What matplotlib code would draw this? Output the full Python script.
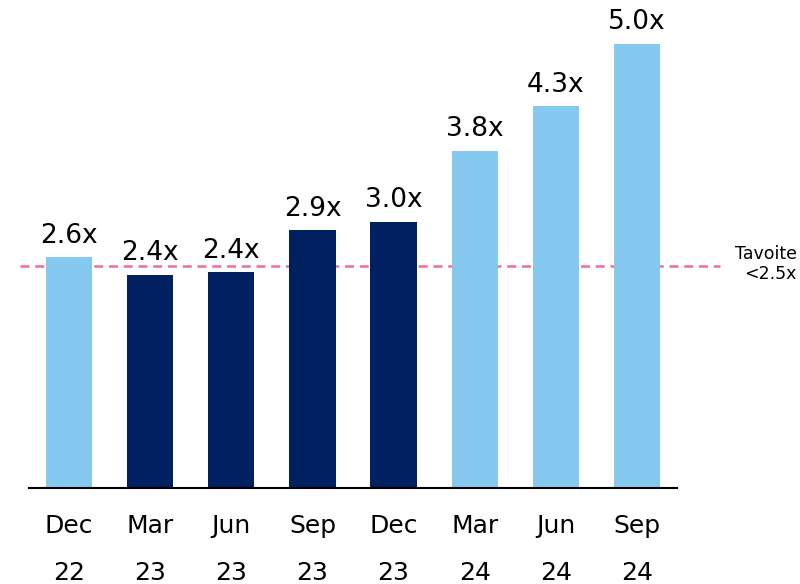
import matplotlib
matplotlib.use("Agg")
import matplotlib.pyplot as plt

months = ["Dec", "Mar", "Jun", "Sep", "Dec", "Mar", "Jun", "Sep"]
years = ["22", "23", "23", "23", "23", "24", "24", "24"]
values = [2.6, 2.4, 2.43, 2.9, 3.0, 3.8, 4.3, 5.0]
labels = ["2.6x", "2.4x", "2.4x", "2.9x", "3.0x", "3.8x", "4.3x", "5.0x"]
highlight = [True, False, False, False, False, True, True, True]
target = 2.5

light = "#85C8F0"
navy = "#00205F"
pink = "#EC6F98"

fig = plt.figure(figsize=(8, 5.84), dpi=100)
ax = fig.add_axes([0.03625, 0.1644, 0.81, 0.8356])

x = list(range(len(values)))
colors = [light if h else navy for h in highlight]
bars = ax.bar(x, values, width=0.57, color=colors, zorder=2)

for b, lab in zip(bars, labels):
    ax.annotate(lab, (b.get_x() + b.get_width() / 2, b.get_height()),
                xytext=(0, 10.5), textcoords="offset points",
                ha="center", va="baseline", fontsize=19, color="black")

ax.plot([-0.6, 8.02], [target, target], color=pink, linestyle=(0, (3.6, 2.3)),
        linewidth=1.8, clip_on=False, zorder=1)
fig.text(0.996, 0.5475, "Tavoite\n<2.5x", ha="right", va="center",
         fontsize=12.5, linespacing=1.15)

ax.set_xlim(-0.495, 7.495)
ax.set_ylim(0, 5.495)
ax.set_xticks(x)
ax.set_xticklabels([m + "\n" + y for m, y in zip(months, years)],
                   fontsize=18, linespacing=2.2)
ax.tick_params(axis="x", length=0, pad=19)
ax.set_yticks([])
for s in ["top", "right", "left"]:
    ax.spines[s].set_visible(False)
ax.spines["bottom"].set_linewidth(1.5)
ax.spines["bottom"].set_color("black")

fig.savefig("out.png", dpi=100)
